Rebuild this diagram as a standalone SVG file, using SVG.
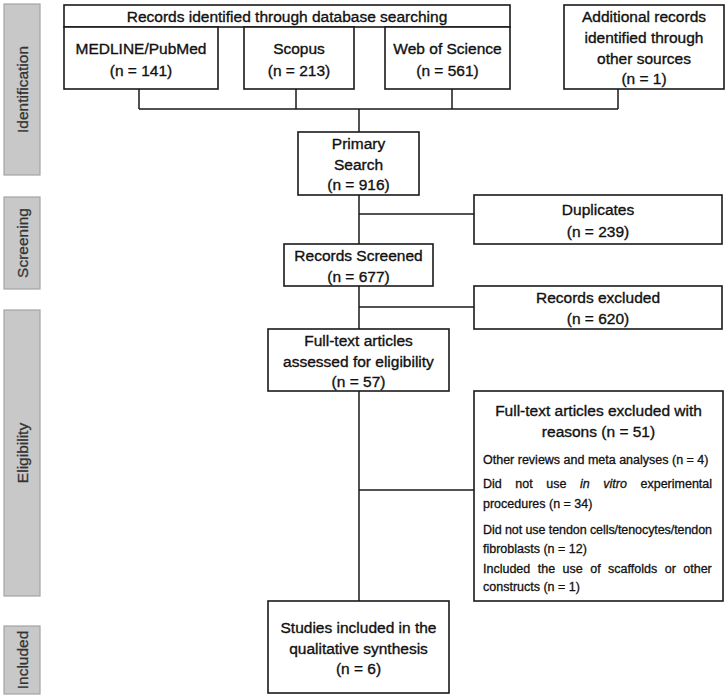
<svg xmlns="http://www.w3.org/2000/svg" width="728" height="699" viewBox="0 0 728 699">
<style>
  .box { fill: #ffffff; stroke: #1a1a1a; stroke-width: 1.6; }
  .bar { fill: #c8c8c8; stroke: #a4a4a4; stroke-width: 1.2; }
  .t { font-family: "Liberation Sans", Arial, sans-serif; font-size: 15.5px; fill: #111; stroke: #111; stroke-width: 0.35; text-anchor: middle; }
  .s { font-family: "Liberation Sans", Arial, sans-serif; font-size: 12.5px; fill: #111; stroke: #111; stroke-width: 0.3; }
  .lab { font-family: "Liberation Sans", Arial, sans-serif; font-size: 15.5px; fill: #333; stroke: #333; stroke-width: 0.3; text-anchor: middle; }
  .conn { fill: none; stroke: #1a1a1a; stroke-width: 1.5; }
</style>
<rect width="728" height="699" fill="#ffffff"/>

<g id="phase-identification">
  <rect class="bar" x="4" y="4" width="36" height="171"/>
  <text class="lab" transform="translate(28,89.5) rotate(-90)">Identification</text>
</g>
<g id="phase-screening">
  <rect class="bar" x="4" y="197" width="36" height="92"/>
  <text class="lab" transform="translate(28,243) rotate(-90)">Screening</text>
</g>
<g id="phase-eligibility">
  <rect class="bar" x="4" y="310" width="36" height="286"/>
  <text class="lab" transform="translate(28,453) rotate(-90)">Eligibility</text>
</g>
<g id="phase-included">
  <rect class="bar" x="4" y="626" width="36" height="68"/>
  <text class="lab" transform="translate(28,660) rotate(-90)">Included</text>
</g>

<g id="connectors">
  <path class="conn" d="M139,89 V109 M296,89 V109 M452,89 V109 M618,89 V109 M139,109 H618"/>
  <path class="conn" d="M359,109 V132"/>
  <path class="conn" d="M359,195 V244 M359,214 H474"/>
  <path class="conn" d="M359,286 V329 M359,307 H474"/>
  <path class="conn" d="M359,391 V601 M359,490 H474"/>
</g>

<g id="database-search">
  <rect class="box" x="64" y="5" width="446" height="22"/>
  <text class="t" x="287" y="21.5">Records identified through database searching</text>
</g>
<g id="medline">
  <rect class="box" x="64" y="27" width="154" height="62"/>
  <text class="t" x="141" y="53.5">MEDLINE/PubMed</text>
  <text class="t" x="141" y="75.5">(n = 141)</text>
</g>
<g id="scopus">
  <rect class="box" x="244" y="27" width="110" height="62"/>
  <text class="t" x="299" y="53.5">Scopus</text>
  <text class="t" x="299" y="75.5">(n = 213)</text>
</g>
<g id="web-of-science">
  <rect class="box" x="385" y="27" width="125" height="62"/>
  <text class="t" x="447.5" y="53.5">Web of Science</text>
  <text class="t" x="447.5" y="75.5">(n = 561)</text>
</g>
<g id="additional">
  <rect class="box" x="564" y="5" width="160" height="84"/>
  <text class="t" x="644" y="21.5">Additional records</text>
  <text class="t" x="644" y="42.5">identified through</text>
  <text class="t" x="644" y="63.5">other sources</text>
  <text class="t" x="644" y="84">(n = 1)</text>
</g>
<g id="primary-search">
  <rect class="box" x="298" y="132" width="121" height="63"/>
  <text class="t" x="358.5" y="148.5">Primary</text>
  <text class="t" x="358.5" y="169.5">Search</text>
  <text class="t" x="358.5" y="190">(n = 916)</text>
</g>
<g id="duplicates">
  <rect class="box" x="474" y="195" width="248" height="49"/>
  <text class="t" x="598" y="214.5">Duplicates</text>
  <text class="t" x="598" y="237">(n = 239)</text>
</g>
<g id="records-screened">
  <rect class="box" x="284" y="244" width="149" height="42"/>
  <text class="t" x="358.5" y="260.5">Records Screened</text>
  <text class="t" x="358.5" y="281.5">(n = 677)</text>
</g>
<g id="records-excluded">
  <rect class="box" x="474" y="286" width="248" height="43"/>
  <text class="t" x="598" y="302.5">Records excluded</text>
  <text class="t" x="598" y="323.5">(n = 620)</text>
</g>
<g id="full-text-assessed">
  <rect class="box" x="268" y="329" width="181" height="62"/>
  <text class="t" x="358.5" y="345.5">Full-text articles</text>
  <text class="t" x="358.5" y="366.5">assessed for eligibility</text>
  <text class="t" x="358.5" y="387">(n = 57)</text>
</g>
<g id="full-text-excluded">
  <rect class="box" x="474" y="391" width="249" height="210"/>
  <text class="t" x="598.5" y="415.5">Full-text articles excluded with</text>
  <text class="t" x="598.5" y="436.5">reasons (n = 51)</text>
  <text class="s" x="483" y="463.5">Other reviews and meta analyses (n = 4)</text>
  <text class="s" x="483" y="487.5" style="word-spacing:10.1px">Did not use <tspan font-style="italic">in vitro</tspan> experimental</text>
  <text class="s" x="483" y="507.5">procedures (n = 34)</text>
  <text class="s" x="483" y="533.5" textLength="229" lengthAdjust="spacing">Did not use tendon cells/tenocytes/tendon</text>
  <text class="s" x="483" y="552.5">fibroblasts (n = 12)</text>
  <text class="s" x="483" y="572.5" style="word-spacing:4px">Included the use of scaffolds or other</text>
  <text class="s" x="483" y="591">constructs (n = 1)</text>
</g>
<g id="studies-included">
  <rect class="box" x="268" y="601" width="181" height="92"/>
  <text class="t" x="358.5" y="632.5">Studies included in the</text>
  <text class="t" x="358.5" y="653.5">qualitative synthesis</text>
  <text class="t" x="358.5" y="674">(n = 6)</text>
</g>
</svg>
